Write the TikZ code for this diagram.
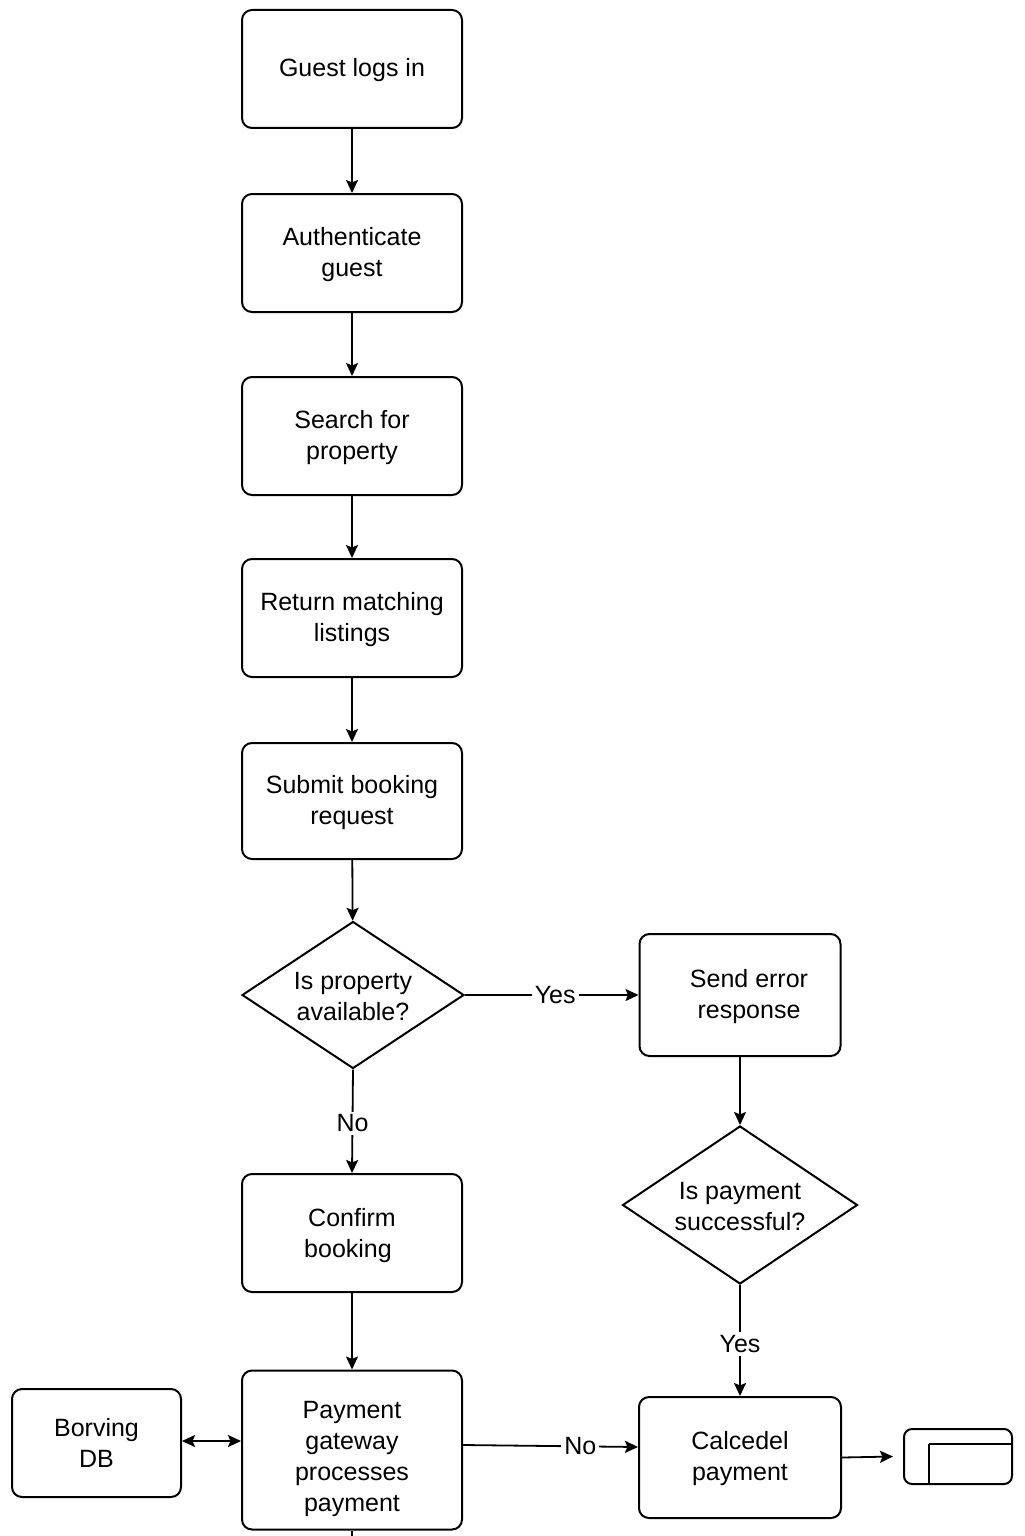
\documentclass[tikz,border=0pt]{standalone}
\usepackage{fontspec}
\setmainfont{Liberation Sans}
\usetikzlibrary{shapes.geometric,arrows.meta}
\begin{document}
\begin{tikzpicture}[x=0.5pt,y=-0.5pt,
  every node/.style={font=\fontsize{12.5}{15.5}\selectfont, align=center},
  stepbox/.style={draw, line width=1pt, rounded corners=5pt, minimum width=110pt, minimum height=59pt, inner sep=2pt},
  decision/.style={draw, diamond, line width=1pt, aspect=1.5, inner sep=0pt},
  tip/.tip={Stealth[length=6.5pt,width=6pt,inset=1.2pt]},
  conn/.style={draw, line width=0.9pt, -tip},
  lbl/.style={fill=white, inner sep=1.5pt}]
\useasboundingbox (0,0) rectangle (1024,1536);
\node[stepbox] (login) at (352,69) {\rule{0pt}{10.5pt}Guest logs in};
\node[stepbox] (auth) at (352,253) {\rule{0pt}{10.5pt}Authenticate\\guest};
\node[stepbox] (search) at (352,436) {\rule{0pt}{10.5pt}Search for\\property};
\node[stepbox] (ret) at (352,618) {\rule{0pt}{10.5pt}Return matching\\listings};
\node[stepbox, minimum height=58pt] (submit) at (352,801) {\rule{0pt}{10.5pt}Submit booking\\request};
\node[decision, minimum width=111pt, minimum height=73.5pt] (avail) at (353,995) {\rule{0pt}{10.5pt}Is property\\available?};
\node[stepbox, minimum width=100.5pt, minimum height=61pt] (err) at (740,995) {\rule{0pt}{10.5pt}\hspace*{9pt}Send error\\\hspace*{9pt}response};
\node[decision, minimum width=117.5pt, minimum height=79pt] (paysucc) at (740,1205) {\rule{0pt}{10.5pt}Is payment\\successful?};
\node[stepbox] (confirm) at (352,1233) {\rule{0pt}{11.5pt}Confirm\\booking\hspace*{4pt}};
\node[stepbox, minimum height=79.5pt] (gateway) at (352,1450) {\rule{0pt}{18pt}Payment\\gateway\\processes\\payment};
\node[stepbox, minimum width=84.5pt, minimum height=54pt] (db) at (96.5,1443) {Borving\\DB};
\node[stepbox, minimum width=101pt, minimum height=60.5pt] (cancel) at (740,1457.5) {\rule{0pt}{10.5pt}Calcedel\\payment};
\node[draw, line width=1pt, rounded corners=4pt, minimum width=54pt, minimum height=27.5pt, inner sep=0pt] (icon) at (958,1456.5) {};
\draw[line width=0.9pt] ([yshift=-8pt]icon.north west -| 929,0) -- ([yshift=-8pt]icon.north east);
\draw[line width=0.9pt] ([yshift=-8pt]icon.north west -| 929,0) -- (icon.south west -| 929,0);
\coordinate (bottomend) at (352,1536);

\draw[conn] (login) -- (auth);
\draw[conn] (auth) -- (search);
\draw[conn] (search) -- (ret);
\draw[conn] (ret) -- (submit);
\draw[conn] (submit) -- (avail);
\draw[conn] (avail.east) -- node[lbl, pos=0.52]{Yes} (err.west);
\draw[conn] (avail.south) -- node[lbl, pos=0.52]{No} (confirm.north);
\draw[conn] (err) -- (paysucc);
\draw[conn] (paysucc.south) -- node[lbl, pos=0.53]{Yes} (cancel.north);
\draw[conn] (confirm) -- (gateway);
\draw[conn, tip-tip] (db.east |- 0,1441) -- (gateway.west |- 0,1441);
\draw[conn] (gateway.east |- 0,1445) -- node[lbl, pos=0.67]{No} (cancel.west |- 0,1447);
\draw[conn] (cancel.east) -- ([xshift=-5pt]icon.west);
\draw[line width=0.9pt] (gateway.south) -- (bottomend);
\end{tikzpicture}
\end{document}
